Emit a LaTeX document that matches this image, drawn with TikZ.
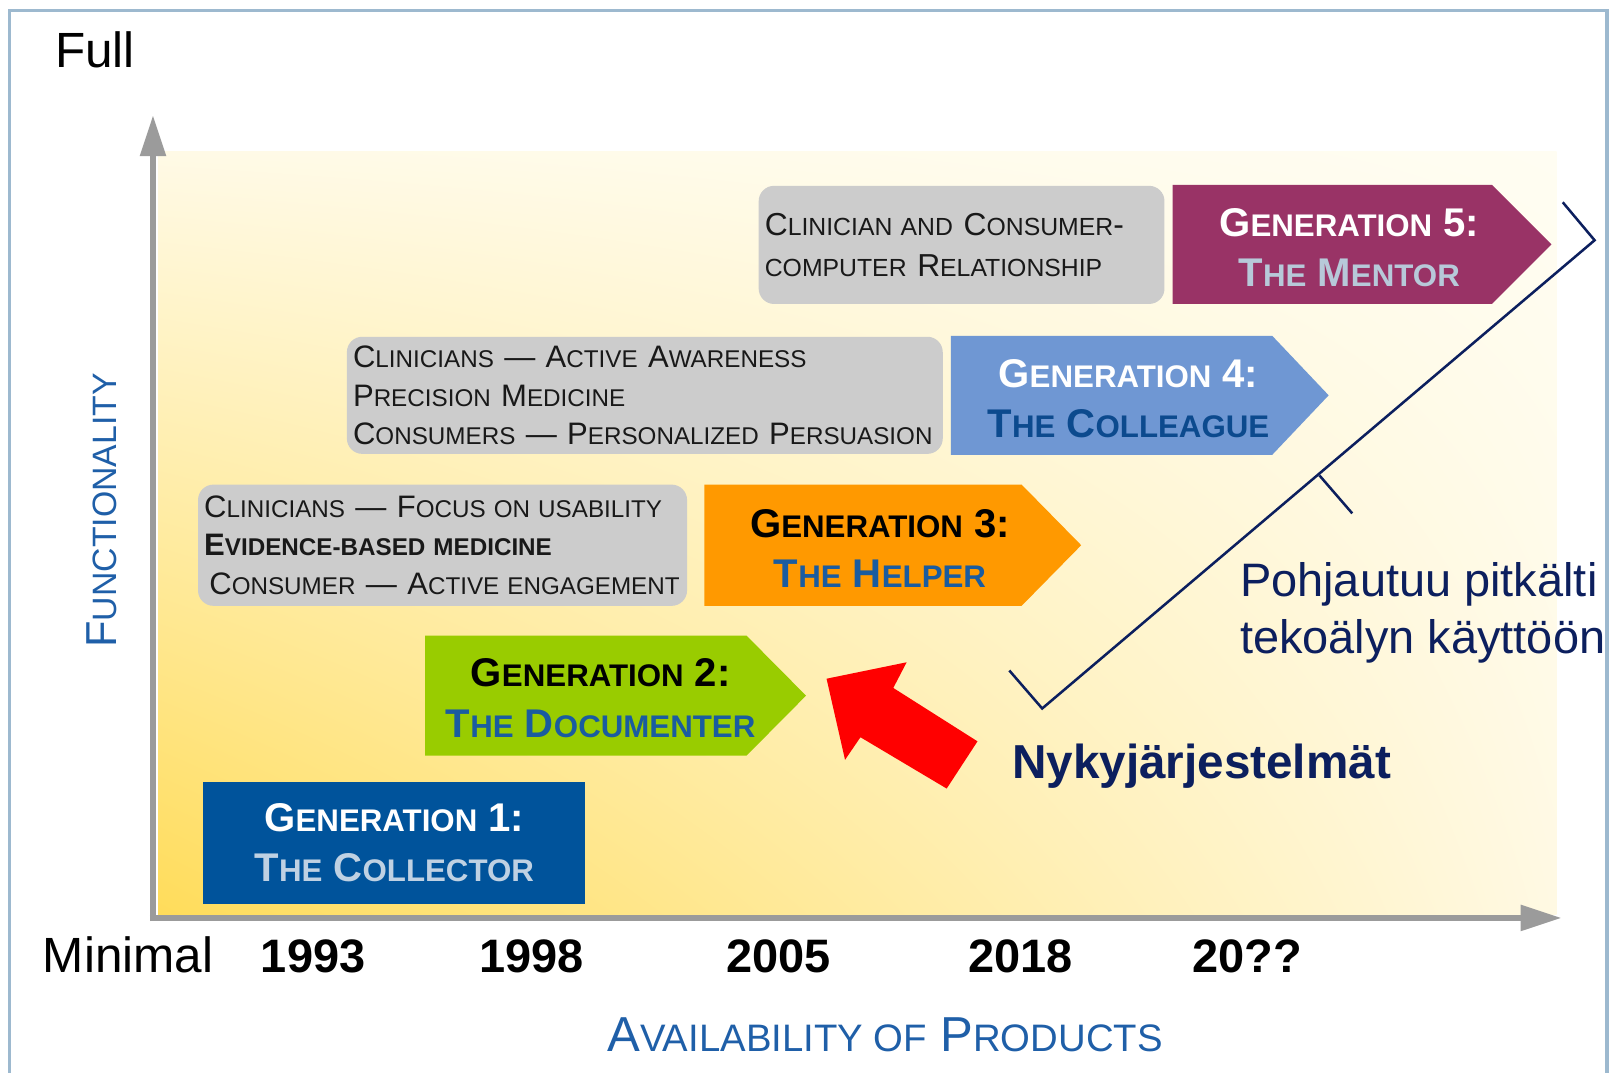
\documentclass[tikz,border=0pt]{standalone}
\usepackage{fontspec}
\setmainfont{Liberation Sans}
\usepackage{graphicx}
\usetikzlibrary{positioning,calc,arrows.meta,shadings}

\definecolor{genone}{HTML}{00539B}
\definecolor{gentwo}{HTML}{99CC00}
\definecolor{genthree}{HTML}{FF9900}
\definecolor{genfour}{HTML}{6F97D3}
\definecolor{genfive}{HTML}{993366}
\definecolor{boxgray}{HTML}{CCCCCC}
\definecolor{axisgray}{HTML}{9B9B9B}
\definecolor{labelblue}{HTML}{1F5FA8}
\definecolor{navy}{HTML}{0C1F5E}
\definecolor{collectorblue}{HTML}{BFD1E3}
\definecolor{mentorblue}{HTML}{B7C9D9}
\definecolor{titleblue}{HTML}{1A5CA0}
\definecolor{colleagueblue}{HTML}{0C4A8E}
\definecolor{framecol}{HTML}{9DB9CF}
\definecolor{bglowleft}{RGB}{255,220,90}
\definecolor{bgupleft}{RGB}{255,250,230}
\definecolor{bglowright}{RGB}{255,249,227}
\definecolor{bgupright}{RGB}{255,253,242}

% small capitals for the fake small-caps labels
\newcommand{\sm}[1]{\scalebox{0.78}{#1}}

\begin{document}
\begin{tikzpicture}[
    x=0.01cm, y=-0.01cm,
    graybox/.style={rectangle, rounded corners=0.15cm, fill=boxgray, inner xsep=0.06cm, inner ysep=0pt, align=left, text=black!90, font=\fontsize{8.6pt}{10.6pt}\selectfont},
    gentext/.style={align=center, inner sep=0pt, font=\fontsize{11.1pt}{13.9pt}\selectfont\bfseries},
    axislabel/.style={text=labelblue, inner sep=0pt},
    endlabel/.style={inner sep=0pt, font=\fontsize{13.7pt}{15pt}\selectfont},
    yearlabel/.style={anchor=base, inner sep=0pt, font=\fontsize{13pt}{15pt}\selectfont\bfseries},
    bracket/.style={draw=navy, line width=0.7pt},
    axis/.style={draw=axisgray, line width=1.8pt, -{Triangle[length=0.4cm, width=0.24cm]}}
]
\useasboundingbox (0,0) rectangle (1568,1045);

% Frame and background
\draw[framecol, line width=0.9pt] (9,1045) -- (9,10.5) -- (1565,10.5) -- (1565,1045);
\shade[lower left=bglowleft, upper left=bgupleft, lower right=bglowright, upper right=bgupright]
    (154,148) rectangle (1516,891);

% Axes
\coordinate (origin) at (149,894);
\coordinate (ytip) at (149,112);
\coordinate (xtip) at (1521,894);
\draw[axis] ([yshift=-0.03cm]origin) -- (ytip);
\draw[axis] ([xshift=-0.03cm]origin) -- (xtip);

% Axis labels
\node[endlabel, anchor=base west] (full) at (53,66) {Full};
\node[endlabel, anchor=base west] (minimal) at (41,947) {Minimal};
\node[yearlabel] (y1993) at (305,947) {1993};
\node[yearlabel] (y1998) at (518,947) {1998};
\node[yearlabel] (y2005) at (758,947) {2005};
\node[yearlabel] (y2018) at (994,947) {2018};
\node[yearlabel] (y20xx) at (1215,947) {20??};
\node[axislabel, anchor=base, font=\fontsize{13.6pt}{16pt}\selectfont] (availability) at (862,1024) {A\sm{VAILABILITY OF} P\sm{RODUCTS}};
\node[axislabel, anchor=base, rotate=90, font=\fontsize{12pt}{14pt}\selectfont] (functionality) at (113,497) {F\sm{UNCTIONALITY}};

% Generations
\node[rectangle, fill=genone, minimum width=3.72cm, minimum height=1.18cm, gentext, text=white] (collector) at (384,821)
    {G\sm{ENERATION} 1:\\\textcolor{collectorblue}{T\sm{HE} C\sm{OLLECTOR}}};

\fill[gentwo] (414,619) -- (727,619) -- (785,677.5) -- (727,736) -- (414,736) -- cycle;
\node[gentext, text=black] (documenter) at (585,680)
    {G\sm{ENERATION} 2:\\\textcolor{titleblue}{T\sm{HE} D\sm{OCUMENTER}}};

\fill[genthree] (686,472) -- (995,472) -- (1053,531) -- (995,590) -- (686,590) -- cycle;
\node[gentext, text=black] (helper) at (857,534)
    {G\sm{ENERATION} 3:\\\textcolor{titleblue}{T\sm{HE} H\sm{ELPER}}};

\fill[genfour] (926,327) -- (1239,327) -- (1294,385) -- (1239,443) -- (926,443) -- cycle;
\node[gentext, text=white] (colleague) at (1099,388)
    {G\sm{ENERATION} 4:\\\textcolor{colleagueblue}{T\sm{HE} C\sm{OLLEAGUE}}};

\fill[genfive] (1142,180) -- (1453,180) -- (1511,238) -- (1453,296) -- (1142,296) -- cycle;
\node[gentext, text=white] (mentor) at (1314,241)
    {G\sm{ENERATION} 5:\\\textcolor{mentorblue}{T\sm{HE} M\sm{ENTOR}}};

% Gray descriptions
\node[graybox, text width=4.64cm, minimum height=1.18cm] (usability) at (431,531)
    {C\sm{LINICIANS}~\textemdash~F\sm{OCUS~ON~USABILITY}\\
     \textbf{E\sm{VIDENCE-BASED~MEDICINE}}\\
     \hspace*{0.05cm}C\sm{ONSUMER}~\textemdash~A\sm{CTIVE~ENGAGEMENT}};
\node[graybox, text width=5.68cm, minimum height=1.14cm] (awareness) at (628,385)
    {C\sm{LINICIANS}~\textemdash~A\sm{CTIVE}~A\sm{WARENESS}\\
     P\sm{RECISION}~M\sm{EDICINE}\\
     C\sm{ONSUMERS}~\textemdash~P\sm{ERSONALIZED}~P\sm{ERSUASION}};
\node[graybox, text width=3.83cm, minimum height=1.15cm, font=\fontsize{8.8pt}{11.4pt}\selectfont] (relation) at (936.5,238.5)
    {C\sm{LINICIAN~AND}~C\sm{ONSUMER}-\\
     \sm{COMPUTER}~R\sm{ELATIONSHIP}};

% Current systems
\fill[red] (805,661) -- (883,645) -- (870,670) -- (952,722) -- (922,768) -- (838,718) -- (823,740) -- cycle;
\node[anchor=base west, inner sep=0pt, text=navy, font=\fontsize{13.2pt}{15pt}\selectfont\bfseries] (current) at (985,758) {Nykyjärjestelmät};

% AI bracket
\draw[bracket] (983,653) -- (1015,690) -- (1553,234) -- (1522,197);
\draw[bracket] (1285,463) -- (1317,500);
\node[anchor=north west, inner sep=0pt, align=left, text=navy, font=\fontsize{13pt}{15.9pt}\selectfont] (ainote) at (1207,547)
    {Pohjautuu pitkälti\\tekoälyn käyttöön};

\end{tikzpicture}
\end{document}
